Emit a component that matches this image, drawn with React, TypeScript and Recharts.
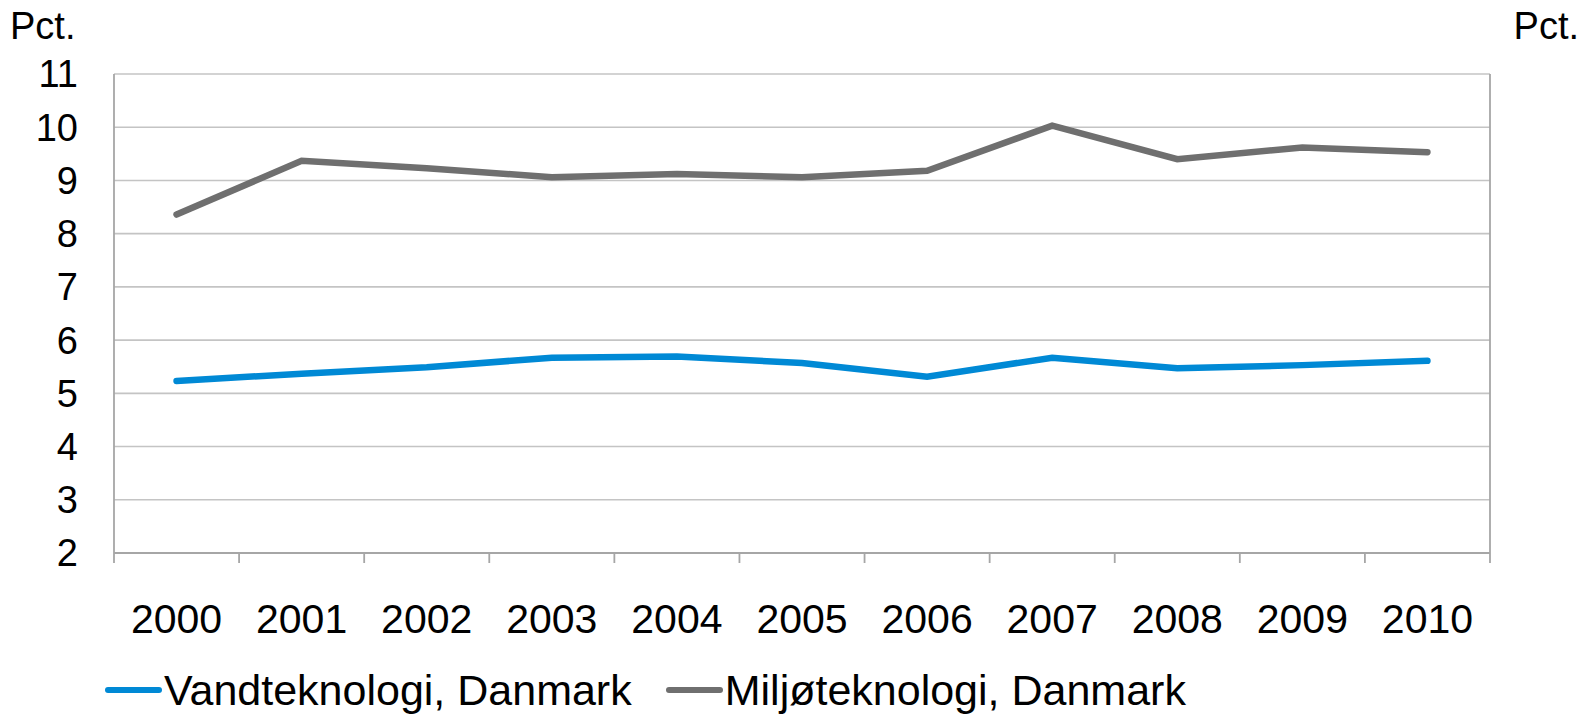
import React from "react";
import {
  LineChart,
  Line,
  XAxis,
  YAxis,
  CartesianGrid,
} from "recharts";

const years = ["2000", "2001", "2002", "2003", "2004", "2005", "2006", "2007", "2008", "2009", "2010"];
const vandteknologi = [5.23, 5.37, 5.49, 5.67, 5.69, 5.57, 5.31, 5.67, 5.47, 5.53, 5.61];
const miljoteknologi = [8.36, 9.37, 9.23, 9.06, 9.12, 9.06, 9.18, 10.03, 9.4, 9.62, 9.53];
const yTicks = [2, 3, 4, 5, 6, 7, 8, 9, 10, 11];
const yearCenters = years.map((_, i) => i);

const data = years.map((year, i) => ({
  i,
  year,
  vand: vandteknologi[i],
  milj: miljoteknologi[i],
}));

const BLUE = "#0089d5";
const GREY = "#6f6f6f";
const AXIS = "#a6a6a6";
const FONT = "'Liberation Sans', Arial, sans-serif";

const legendItems = [
  { name: "Vandteknologi, Danmark", color: BLUE },
  { name: "Miljøteknologi, Danmark", color: GREY },
];

// label at band centre + tick marks at band edges (like Excel)
const YearTick = (props: any) => {
  const { x, y, payload, index, width } = props;
  const half = width / years.length / 2;
  const last = index === years.length - 1;
  return (
    <g>
      <line x1={x - half} x2={x - half} y1={y} y2={y + 10} stroke={AXIS} strokeWidth={1.8} />
      {last && (
        <line x1={x + half} x2={x + half} y1={y} y2={y + 10} stroke={AXIS} strokeWidth={1.8} />
      )}
      <text x={x} y={y + 51} dy="0.71em" textAnchor="middle" fontSize={41} fill="#000">
        {years[payload.value]}
      </text>
    </g>
  );
};

export default function App() {
  return (
    <div
      style={{
        position: "absolute",
        left: 0,
        top: 0,
        width: 1585,
        height: 715,
        background: "#fff",
        fontFamily: FONT,
      }}
    >
      <div style={{ position: "absolute", left: 10, top: 5, fontSize: 38, color: "#000" }}>Pct.</div>
      <div style={{ position: "absolute", right: 6, top: 5, fontSize: 38, color: "#000" }}>Pct.</div>

      <LineChart
        width={1585}
        height={715}
        data={data}
        margin={{ top: 74, right: 0, bottom: 0, left: 0 }}
        style={{ fontFamily: FONT }}
      >
        <CartesianGrid vertical={false} stroke="#c4c4c4" strokeWidth={1.6} />
        <XAxis
          type="number"
          dataKey="i"
          domain={[-0.5, years.length - 0.5]}
          ticks={yearCenters}
          height={162}
          axisLine={{ stroke: AXIS, strokeWidth: 1.8 }}
          tickLine={false}
          tickSize={0}
          tickMargin={0}
          tick={<YearTick />}
          interval={0}
        />
        <YAxis
          domain={[2, 11]}
          ticks={yTicks}
          width={114}
          tickSize={0}
          tickMargin={36}
          tickLine={false}
          axisLine={{ stroke: AXIS, strokeWidth: 1.8 }}
          tick={{ fontSize: 38, fill: "#000" }}
          interval={0}
        />
        <YAxis
          yAxisId="r"
          orientation="right"
          domain={[2, 11]}
          ticks={yTicks}
          width={95}
          tickSize={0}
          tickMargin={37}
          tickLine={false}
          axisLine={{ stroke: AXIS, strokeWidth: 1.8 }}
          tick={{ fontSize: 38, fill: "#000", textAnchor: "start" }}
          interval={0}
        />
        <Line
          dataKey="vand"
          stroke={BLUE}
          strokeWidth={6.5}
          strokeLinecap="round"
          dot={false}
          isAnimationActive={false}
        />
        <Line
          dataKey="milj"
          stroke={GREY}
          strokeWidth={6.5}
          strokeLinecap="round"
          dot={false}
          isAnimationActive={false}
        />
      </LineChart>

      <div
        style={{
          position: "absolute",
          left: 105,
          top: 666,
          display: "flex",
          alignItems: "center",
          fontSize: 43,
          lineHeight: "48px",
          color: "#000",
        }}
      >
        {legendItems.map((item, idx) => (
          <div
            key={item.name}
            style={{ display: "flex", alignItems: "center", marginLeft: idx === 0 ? 0 : 34 }}
          >
            <span
              style={{
                display: "inline-block",
                width: 57,
                height: 6,
                borderRadius: 3,
                background: item.color,
                marginRight: 2,
              }}
            />
            <span>{item.name}</span>
          </div>
        ))}
      </div>
    </div>
  );
}
